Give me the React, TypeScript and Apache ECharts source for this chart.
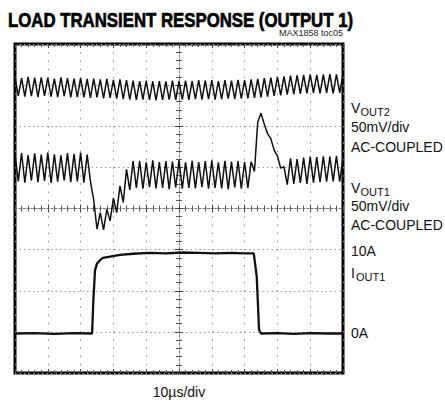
import React, { useEffect, useRef } from "react";
import * as echarts from "echarts";

// Oscilloscope screen: x in divisions (10 div, 10us/div), y in divisions (8 div)
const sampleStep = 0.1; // divisions between samples of the voltage traces

const vout2 = [
  7.19, 6.74, 7.17, 6.72, 7.2, 6.73, 7.18, 6.71, 7.19, 6.74,
  7.18, 6.72, 7.16, 6.71, 7.19, 6.73, 7.17, 6.7, 7.16, 6.71,
  7.17, 6.7, 7.15, 6.69, 7.16, 6.7, 7.14, 6.68, 7.15, 6.69,
  7.13, 6.67, 7.14, 6.66, 7.12, 6.65, 7.11, 6.64, 7.1, 6.65,
  7.11, 6.64, 7.09, 6.63, 7.1, 6.64, 7.09, 6.65, 7.11, 6.64,
  7.1, 6.65, 7.11, 6.64, 7.1, 6.66, 7.12, 6.65, 7.11, 6.66,
  7.12, 6.65, 7.1, 6.66, 7.12, 6.67, 7.11, 6.66, 7.13, 6.67,
  7.12, 6.68, 7.14, 6.69, 7.15, 6.7, 7.17, 6.72, 7.18, 6.74,
  7.2, 6.75, 7.21, 6.77, 7.23, 6.78, 7.24, 6.79, 7.25, 6.8,
  7.26, 6.81, 7.25, 6.8, 7.26, 6.81, 7.27, 6.8, 7.26, 6.81,
  7.27,
];

const vout1 = [
  5.32, 4.66, 5.35, 4.63, 5.3, 4.68, 5.34, 4.64, 5.31, 4.67,
  5.36, 4.62, 5.32, 4.65, 5.29, 4.68, 5.35, 4.64, 5.33, 4.66,
  5.36, 4.63, 5.31, 4.66, 4.2, 3.5, 3.9, 3.48, 3.98, 3.7,
  4.25, 3.9, 4.55, 4.15, 4.95, 4.45, 5.15, 4.5, 5.16, 4.48,
  5.12, 4.52, 5.17, 4.49, 5.13, 4.5, 5.15, 4.47, 5.14, 4.51,
  5.18, 4.48, 5.12, 4.5, 5.16, 4.49, 5.13, 4.52, 5.15, 4.48,
  5.17, 4.5, 5.12, 4.49, 5.16, 4.47, 5.14, 4.51, 5.15, 4.48,
  5.13, 4.5, 5.14, 4.9, 6.1, 6.32, 6.05, 5.82, 5.7, 5.42,
  5.28, 4.98, 5.02, 4.58, 5.22, 4.6, 5.2, 4.62, 5.24, 4.6,
  5.26, 4.63, 5.25, 4.64, 5.27, 4.65, 5.26, 4.66, 5.28, 4.65,
  5.25,
];

const ioutTime = [
  0, 0.6, 1.2, 1.8, 2.35, 2.39, 2.44, 2.5, 2.6, 2.68, 3.2, 3.6, 4.1, 4.6,
  5.1, 5.6, 6.1, 6.6, 7.0, 7.28, 7.37, 7.44, 7.5, 8.0, 8.5, 9.0, 9.5, 10,
];
const ioutValues = [
  0.96, 0.97, 0.95, 0.97, 0.96, 1.78, 2.5, 2.66, 2.75, 2.8, 2.87, 2.9, 2.92, 2.91,
  2.93, 2.92, 2.91, 2.92, 2.91, 2.91, 2.34, 1.05, 0.96, 0.97, 0.95, 0.97, 0.96, 0.96,
];

const titleText = "LOAD TRANSIENT RESPONSE (OUTPUT 1)";
const docText = "MAX1858 toc05";
const timebaseText = "10\u00b5s/div";

const FONT = '"Liberation Sans", Arial, Helvetica, sans-serif';

export default function App() {
  const ref = useRef<HTMLDivElement>(null);

  useEffect(() => {
    if (!ref.current) return;
    const chart = echarts.init(ref.current, null, { renderer: "svg" });
    const L = 15, T = 44, W = 328, H = 329;
    const toPairs = (vals: number[]) => vals.map((v, i) => [i * sampleStep, v]);
    const ioutPairs = ioutTime.map((t, i) => [t, ioutValues[i]]);

    const hidden = { show: false };
    const tickAxisX = (extra: any) => ({
      type: "value",
      min: 0,
      max: 10,
      interval: 1,
      gridIndex: 0,
      axisLabel: hidden,
      splitLine: hidden,
      axisLine: { show: false, onZero: false },
      axisTick: { show: true, inside: true, length: 4, lineStyle: { color: "#444", width: 1 } },
      minorTick: { show: true, splitNumber: 5, length: 3, lineStyle: { color: "#555", width: 1 } },
      ...extra,
    });
    const tickAxisY = (extra: any) => ({
      type: "value",
      min: 0,
      max: 8,
      interval: 1,
      gridIndex: 0,
      axisLabel: hidden,
      splitLine: hidden,
      axisLine: { show: false, onZero: false },
      axisTick: { show: true, inside: true, length: 4, lineStyle: { color: "#444", width: 1 } },
      minorTick: { show: true, splitNumber: 5, length: 3, lineStyle: { color: "#555", width: 1 } },
      ...extra,
    });
    const centerLine = { show: true, onZero: false, lineStyle: { color: "#777", width: 1, type: [2, 2] } };

    const label = (text: string, x: number, y: number, size = 14) => ({
      type: "text",
      x,
      y,
      silent: true,
      style: { text, font: `${size}px ${FONT}`, fill: "#111", align: "left", verticalAlign: "middle" },
    });

    chart.setOption({
      animation: false,
      backgroundColor: "#fff",
      grid: {
        left: L,
        top: T,
        width: W,
        height: H,
        show: true,
        borderColor: "#000",
        borderWidth: 3,
        backgroundColor: "transparent",
        containLabel: false,
      },
      xAxis: [
        {
          type: "value",
          min: 0,
          max: 10,
          interval: 1,
          position: "bottom",
          axisLabel: hidden,
          axisLine: { show: false, onZero: false },
          axisTick: { show: true, inside: true, length: 4, lineStyle: { color: "#444" } },
          minorTick: { show: true, splitNumber: 5, length: 3, lineStyle: { color: "#555" } },
          splitLine: { show: true, lineStyle: { color: "#8a8a8a", width: 1, type: [1.5, 6.7] } },
        },
        tickAxisX({ position: "top" }),
        tickAxisX({ position: "bottom", offset: -H / 2, axisLine: centerLine }),
        tickAxisX({
          position: "bottom",
          offset: -H / 2,
          axisTick: { show: true, inside: false, length: 4, lineStyle: { color: "#444" } },
        }),
      ],
      yAxis: [
        {
          type: "value",
          min: 0,
          max: 8,
          interval: 1,
          position: "left",
          axisLabel: hidden,
          axisLine: { show: false, onZero: false },
          axisTick: hidden,
          splitLine: { show: true, lineStyle: { color: "#9a9a9a", width: 1, type: [1.5, 3] } },
        },
        tickAxisY({ position: "left", offset: -W / 2, axisLine: centerLine }),
        tickAxisY({
          position: "left",
          offset: -W / 2,
          axisTick: { show: true, inside: false, length: 4, lineStyle: { color: "#444" } },
        }),
      ],
      series: [
        {
          name: "VOUT2",
          type: "line",
          data: toPairs(vout2),
          showSymbol: false,
          silent: true,
          lineStyle: { color: "#111", width: 1.5 },
        },
        {
          name: "VOUT1",
          type: "line",
          data: toPairs(vout1),
          showSymbol: false,
          silent: true,
          lineStyle: { color: "#111", width: 1.5 },
        },
        {
          name: "IOUT1",
          type: "line",
          data: ioutPairs,
          showSymbol: false,
          silent: true,
          lineStyle: { color: "#111", width: 2.3 },
        },
      ],
      graphic: [
        {
          type: "text",
          x: 8,
          y: 19.5,
          scaleX: 0.8,
          silent: true,
          style: {
            text: titleText,
            font: `bold 21px ${FONT}`,
            fill: "#000",
            stroke: "#000",
            lineWidth: 0.7,
            align: "left",
            verticalAlign: "middle",
          },
        },
        {
          type: "text",
          x: 343,
          y: 33,
          silent: true,
          style: { text: docText, font: `9px ${FONT}`, fill: "#222", align: "right", verticalAlign: "middle" },
        },
        {
          type: "text",
          x: 179,
          y: 392,
          silent: true,
          style: { text: timebaseText, font: `14px ${FONT}`, fill: "#111", align: "center", verticalAlign: "middle" },
        },
        label("V", 351, 108),
        label("OUT2", 360.5, 111.5, 11),
        label("50mV/div", 351, 127),
        label("AC-COUPLED", 351, 147),
        label("V", 351, 188),
        label("OUT1", 360.5, 191.5, 11),
        label("50mV/div", 351, 206),
        label("AC-COUPLED", 351, 225),
        label("10A", 351, 250.5),
        label("I", 351, 273),
        label("OUT1", 356, 276.5, 11),
        label("0A", 351, 333),
      ],
    });
    return () => chart.dispose();
  }, []);

  return (
    <div
      ref={ref}
      style={{ position: "fixed", left: 0, top: 0, width: 445, height: 406, background: "#fff" }}
    />
  );
}
